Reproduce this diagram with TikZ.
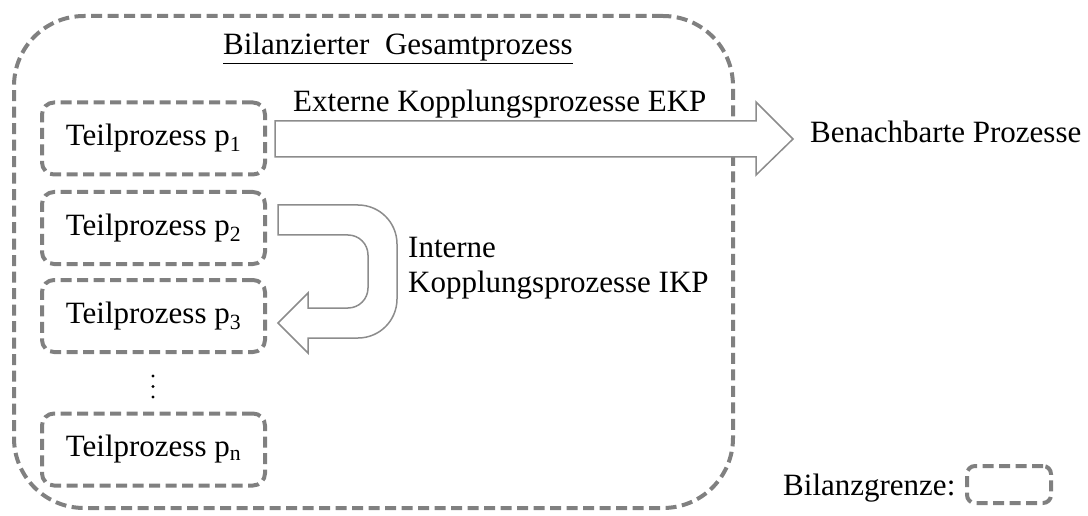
\documentclass[tikz,border=0pt]{standalone}
\usepackage{fontspec}
\setmainfont{Liberation Serif}
\begin{document}
\begin{tikzpicture}[x=1pt,y=-1pt,
  font=\fontsize{31}{36}\selectfont,
  grenze/.style={draw=black!50, line width=4pt, dash pattern=on 11pt off 5.5pt,
    rounded corners=12pt},
  teil/.style={grenze, minimum width=223pt, minimum height=72pt, inner sep=0pt},
  blockpfeil/.style={draw=black!45, line width=1.5pt, fill=white, line join=miter},
  lbl/.style={inner sep=0pt, anchor=base west},
  punkt/.style={fill=black, circle, inner sep=0pt, minimum size=3.2pt}]
\useasboundingbox (0,0) rectangle (1088,516);

% system boundary of the whole process
\node[grenze, rounded corners=70pt, minimum width=719pt, minimum height=492pt,
  inner sep=0pt] (gesamt) at (373.5,262) {};
\node[lbl] (titel) at (223,55) {\underline{Bilanzierter\ \ Gesamtprozess}};

% sub-processes
\node[teil] (p1) at (153.5,138.5) {Teilprozess p\textsubscript{1}};
\node[teil] (p2) at (153.5,228) {Teilprozess p\textsubscript{2}};
\node[teil] (p3) at (153.5,316) {Teilprozess p\textsubscript{3}};
\node[teil] (pn) at (153.5,449.5) {Teilprozess p\textsubscript{n}};

% vertical ellipsis between p3 and pn
\node[punkt] (d1) at (153,376) {};
\node[punkt] (d2) at (153,386.5) {};
\node[punkt] (d3) at (153,397) {};

% external coupling: straight block arrow
\draw[blockpfeil] (275,121) -- (756,121) -- (756,102) -- (793,139)
  -- (756,175) -- (756,157) -- (275,157) -- cycle;
\node[lbl] (ekp) at (293,112) {Externe Kopplungsprozesse EKP};
\node[lbl] (nachbar) at (810,143) {Benachbarte Prozesse};

% internal coupling: U-turn block arrow
\draw[blockpfeil] (278,205) [rounded corners=39pt] -- (397,205) -- (397,338)
  [sharp corners] -- (308,338) -- (308,353) -- (278,323) -- (308,293) -- (308,308)
  [rounded corners=20pt] -- (368,308) -- (368,235)
  [sharp corners] -- (278,235) -- cycle;
\node[lbl] (ikp1) at (408,258) {Interne};
\node[lbl] (ikp2) at (408,292) {Kopplungsprozesse IKP};

% legend
\node[lbl] (legtext) at (783,495) {Bilanzgrenze:};
\node[grenze, rounded corners=8pt, minimum width=84pt, minimum height=37pt,
  inner sep=0pt] (legbox) at (1009,484.5) {};
\end{tikzpicture}
\end{document}
